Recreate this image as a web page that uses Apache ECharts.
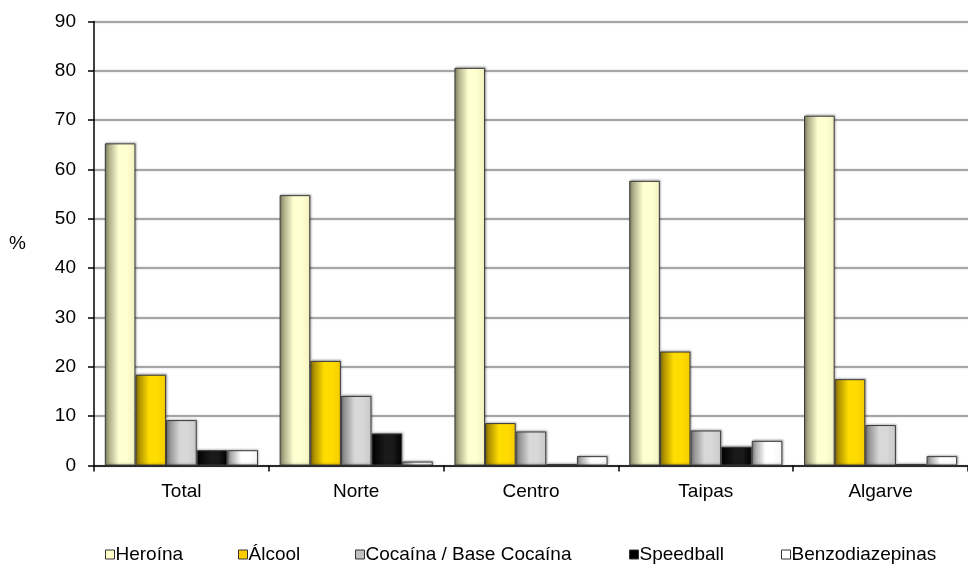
<!DOCTYPE html>
<html>
<head>
<meta charset="utf-8">
<script src="https://cdn.jsdelivr.net/npm/echarts@6/dist/echarts.min.js"></script>
<style>html,body{margin:0;padding:0;background:#fff}#c{width:968px;height:566px}</style>
</head>
<body>
<div id="c"></div>
<script>
const categories = ['Total', 'Norte', 'Centro', 'Taipas', 'Algarve'];
const seriesNames = ['Heroína', 'Álcool', 'Cocaína / Base Cocaína', 'Speedball', 'Benzodiazepinas'];
const heroina = [65.3, 54.8, 80.6, 57.7, 70.9];
const alcool = [18.4, 21.2, 8.6, 23.1, 17.5];
const cocaina = [9.2, 14.1, 6.9, 7.1, 8.2];
const speedball = [3.1, 6.5, 0.3, 3.8, 0.3];
const benzo = [3.1, 0.8, 1.9, 5.0, 1.9];
const yTicks = [0, 10, 20, 30, 40, 50, 60, 70, 80, 90];

const values = [heroina, alcool, cocaina, speedball, benzo];
function grad(dark, light, mid) {
  return new echarts.graphic.LinearGradient(0, 0, 1, 0, [
    {offset: 0, color: dark},
    {offset: 0.45, color: light},
    {offset: 0.7, color: light},
    {offset: 1, color: mid}
  ]);
}
const fills = [
  grad('#8a8a68', '#ffffd2', '#f2f2c0'),
  grad('#8f7400', '#ffdc00', '#f5cc00'),
  grad('#7a7a7a', '#d8d8d8', '#c8c8c8'),
  grad('#000000', '#1a1a1a', '#000000'),
  grad('#8c8c8c', '#ffffff', '#f4f4f4')
];
const legendColors = ['#ffffcc', '#ffcc00', '#c0c0c0', '#000000', '#ffffff'];
const legendLeft = [100, 233, 350, 624, 776];
const FONT = 'Liberation Sans';

const chart = echarts.init(document.getElementById('c'), null, {renderer: 'canvas'});
const series = seriesNames.map((n, i) => ({
  name: n,
  type: 'bar',
  data: values[i],
  barGap: '0%',
  barCategoryGap: '12.4%',
  itemStyle: {
    color: fills[i],
    borderColor: '#3a3a3a',
    borderWidth: 1,
    shadowColor: 'rgba(0,0,0,0.25)',
    shadowBlur: 2,
    shadowOffsetX: 1,
    shadowOffsetY: -1
  },
  emphasis: {disabled: true},
  animation: false
}));
const legends = seriesNames.map((n, i) => ({
  data: [{name: n, itemStyle: {color: legendColors[i], borderColor: '#333', borderWidth: 1}}],
  left: legendLeft[i],
  top: 540,
  itemWidth: 9,
  itemHeight: 9,
  itemGap: 0,
  icon: 'rect',
  selectedMode: false,
  textStyle: {fontFamily: FONT, fontSize: 19, color: '#000', padding: [0, 0, 0, -4]}
}));
chart.setOption({
  backgroundColor: '#ffffff',
  animation: false,
  legend: legends,
  grid: {left: 94, top: 21.5, width: 885, bottom: 100.5, containLabel: false},
  xAxis: {
    type: 'category',
    data: categories,
    axisLine: {lineStyle: {color: '#000', width: 1.5}},
    axisTick: {show: true, length: 6, lineStyle: {color: '#000', width: 1.5}, alignWithLabel: false},
    axisLabel: {fontFamily: FONT, fontSize: 19, color: '#000', margin: 17}
  },
  yAxis: {
    type: 'value',
    min: yTicks[0],
    max: yTicks[yTicks.length - 1],
    interval: 10,
    name: '%',
    nameLocation: 'middle',
    nameRotate: 0,
    nameGap: 68,
    nameTextStyle: {fontFamily: FONT, fontSize: 19, color: '#000'},
    axisLine: {show: true, lineStyle: {color: '#000', width: 1.5}},
    axisTick: {show: true, length: 6, inside: false, lineStyle: {color: '#000', width: 1.5}},
    axisLabel: {fontFamily: FONT, fontSize: 19, color: '#000', margin: 18},
    splitLine: {lineStyle: {color: '#a6a6a6', width: 2, shadowColor: 'rgba(0,0,0,0.2)', shadowBlur: 2}}
  },
  series: series
});
</script>
</body>
</html>
